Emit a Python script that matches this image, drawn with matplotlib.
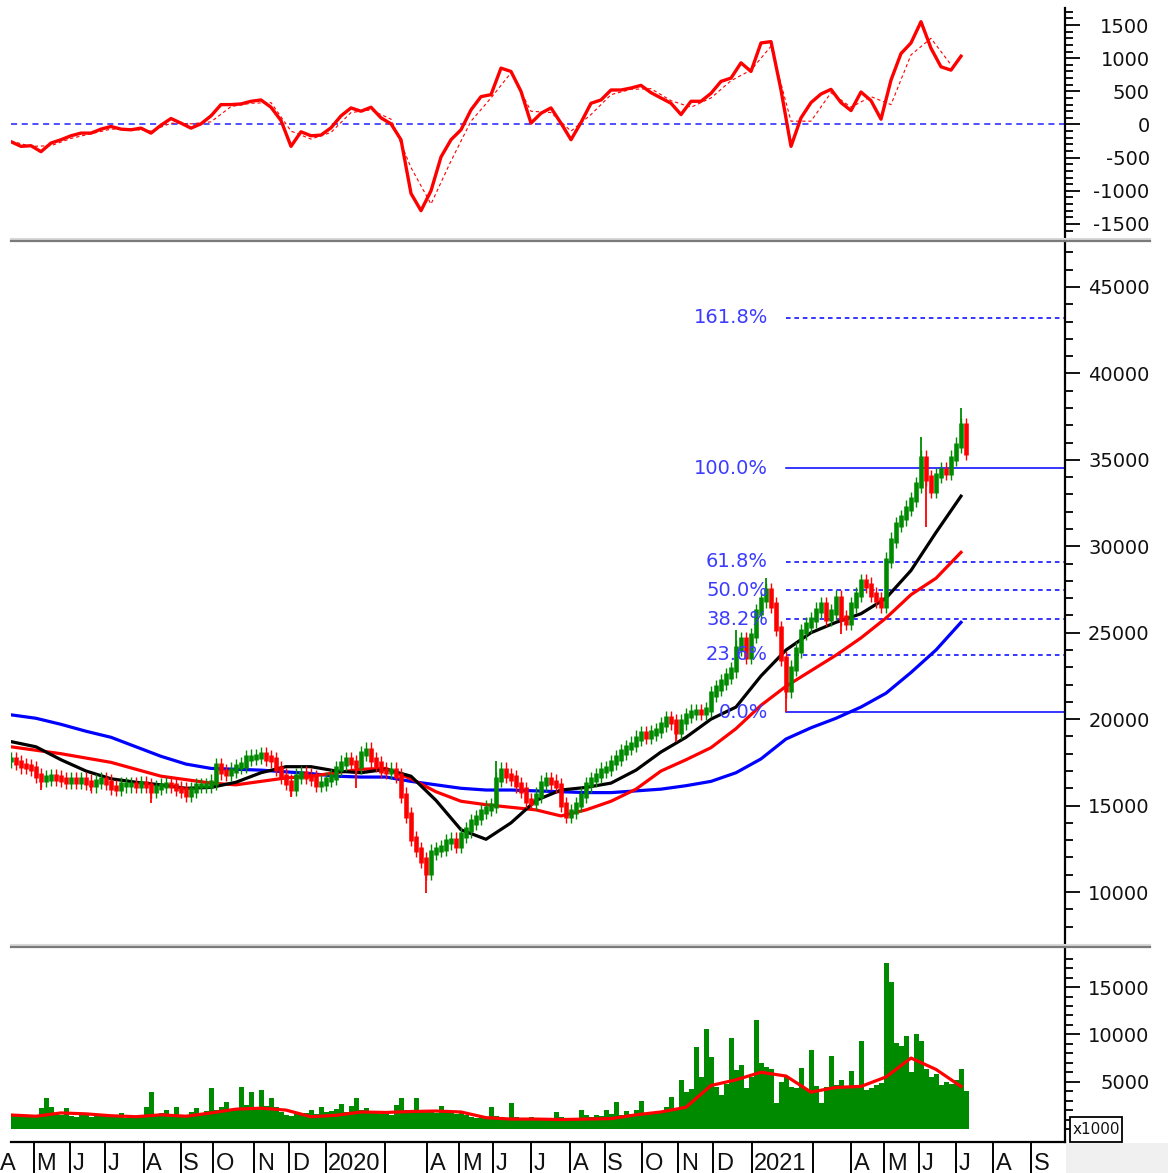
import numpy as np
import matplotlib.pyplot as plt
from matplotlib.lines import Line2D
from matplotlib.patches import Rectangle
from matplotlib.ticker import FuncFormatter

plt.rcParams['axes.unicode_minus'] = False
plt.rcParams['font.family'] = 'DejaVu Sans'

W, H, DPI = 1168, 1173, 100

# --- price closes, one bar ~ every 3 sessions (Apr 2019 -> Jul 2021) ---
close = [
    17650, 17500, 17300, 17250, 17150, 16750, 16500, 16600, 16650, 16600,
    16500, 16400, 16500, 16400, 16500, 16350, 16200, 16400, 16500, 16350,
    16050, 16000, 16200, 16200, 16200, 16150, 16250, 16150, 15900, 16050,
    16150, 16200, 16150, 16000, 15900, 15650, 15900, 16150, 16150, 16150,
    16350, 17300, 16950, 16850, 17050, 17250, 17350, 17750, 17800, 17850,
    17950, 17750, 17650, 17150, 16700, 16350, 16000, 16700, 16850, 16700,
    16600, 16250, 16300, 16500, 16650, 17150, 17450, 17650, 17500, 17300,
    18000, 18200, 17650, 17400, 17050, 17000, 17050, 16750, 15600, 14450,
    13100, 12450, 11850, 11150, 12300, 12450, 12550, 12900, 13000, 12700,
    13300, 13600, 14050, 14300, 14650, 14850, 15000, 16500, 17050, 16750,
    16600, 16200, 15900, 15300, 15200, 15600, 16300, 16500, 16350, 16150,
    15050, 14450, 14650, 15050, 15600, 16200, 16500, 16750, 17050, 17150,
    17500, 17750, 18100, 18350, 18550, 18900, 19150, 19000, 19200, 19350,
    19700, 20050, 19850, 19300, 19850, 20200, 20400, 20450, 20400, 20550,
    21450, 21800, 22150, 22500, 22850, 24100, 24600, 23650, 24850, 26200,
    26900, 27450, 26600, 25250, 23500, 21700, 22950, 24000, 25050, 25450,
    25750, 26300, 26600, 25850, 26200, 27000, 25850, 25600, 26600, 27200,
    27950, 27750, 27200, 26900, 26600, 29200, 30350, 31250, 31650, 32200,
    32700, 33550, 35100, 33950, 33250, 34100, 34400, 34300, 35100, 35850,
    37000, 35450,
]
# long shadows (bar index, extreme price)
spike_bar = [6, 16, 28, 56, 69, 83, 97, 133, 145, 151, 155, 166, 182, 183, 190]
spike_val = [15900, 15850, 15150, 15500, 16000, 9950, 17550, 18700, 25150,
             28150, 20400, 24950, 36300, 31100, 38000]

# moving averages, one value every MA_STEP bars
MA_STEP = 5
ma_short = [18700, 18400, 17650, 17000, 16550, 16350, 16200, 16000, 16050, 16350,
            16900, 17250, 17250, 17000, 16900, 17100, 16700, 15300, 13600, 13050,
            14000, 15300, 15900, 16050, 16300, 17050, 18100, 18950, 20000, 20700,
            22500, 24000, 25000, 25600, 26100, 27000, 28600, 30800, 32900]
ma_mid = [18400, 18200, 18000, 17750, 17500, 17100, 16700, 16500, 16300, 16200,
          16400, 16600, 16700, 16900, 17100, 17150, 16550, 15800, 15250, 15050,
          14900, 14750, 14400, 14750, 15250, 15950, 17000, 17650, 18350, 19450,
          20800, 21900, 22800, 23700, 24700, 25850, 27200, 28150, 29650]
ma_long = [20250, 20050, 19700, 19300, 18950, 18400, 17850, 17400, 17150, 17100,
           17050, 16950, 16850, 16700, 16650, 16650, 16400, 16200, 16000, 15900,
           15900, 15850, 15800, 15750, 15750, 15850, 15950, 16150, 16400, 16900,
           17700, 18850, 19500, 20050, 20700, 21500, 22700, 24000, 25600]

# volume (x1000), same bars as close
volume = [
    1500, 1400, 1600, 1300, 1400, 1500, 2200, 3300, 2300, 1700,
    1500, 2200, 1400, 1300, 1700, 1500, 1300, 1600, 1400, 1500,
    1300, 1400, 1700, 1200, 1300, 1400, 1500, 2300, 3900, 1500,
    1700, 2000, 1600, 2300, 1500, 1400, 1800, 2200, 1700, 1900,
    4300, 2000, 2300, 2900, 1900, 2100, 4400, 2500, 3900, 2200,
    4100, 2400, 3300, 2300, 1800, 1500, 1400, 1600, 1500, 1700,
    2000, 1600, 2300, 1800, 1900, 2100, 2600, 1800, 2400, 3300,
    2000, 2200, 1700, 1900, 1600, 1800, 1500, 2500, 3300, 2000,
    1800, 3300, 2000, 1900, 1800, 1700, 2400, 2000, 1800, 1600,
    1700, 1500, 1300, 1200, 1300, 1200, 2300, 1400, 1300, 1200,
    2800, 1300, 1200, 1100, 1300, 1100, 1200, 1200, 1100, 1800,
    1300, 1100, 1000, 1200, 2000, 1500, 1300, 1500, 1400, 2000,
    1600, 2900, 1500, 1900, 1600, 2000, 3000, 1700, 1600, 1700,
    1800, 2300, 3400, 2100, 5200, 3900, 4200, 8700, 5500, 10600,
    7600, 4400, 3600, 4800, 9600, 6200, 6800, 4300, 5500, 11500,
    7000, 6600, 6300, 2800, 5000, 5500, 4400, 4300, 6400, 4200,
    8300, 4500, 2800, 4400, 7700, 4600, 5200, 4400, 6100, 4700,
    9300, 4100, 4300, 4700, 4900, 17500, 15500, 9100, 8800, 9800,
    6000, 10000, 9300, 6300, 5500, 5800, 4700, 5000, 4800, 5200,
    6300, 4000,
]
vol_ma = [1480, 1350, 1700, 1600, 1400, 1300, 1500, 1350, 1700, 2100,
          2200, 2000, 1300, 1450, 1800, 1750, 1850, 1900, 1800, 1200,
          1050, 1050, 1000, 1050, 1100, 1500, 1800, 2300, 4600, 5200,
          6000, 5600, 3900, 4400, 4500, 5500, 7500, 6300, 4500]

# oscillator (every 2 bars) and its signal line (every 4 bars)
OSC_STEP, SIG_STEP = 2, 4
osc = [-260, -330, -320, -410, -280, -230, -170, -130, -130, -70,
       -30, -70, -80, -55, -130, -10, 90, 20, -55, 10,
       130, 300, 300, 310, 350, 370, 260, 60, -330, -110,
       -170, -160, -50, 130, 250, 200, 260, 100, 10, -230,
       -1040, -1300, -1000, -490, -230, -80, 220, 420, 450, 850,
       800, 500, 20, 170, 250, 20, -230, 30, 320, 370,
       520, 520, 550, 590, 480, 400, 320, 150, 350, 350,
       470, 650, 700, 930, 800, 1230, 1250, 520, -330, 100,
       330, 460, 530, 330, 210, 490, 360, 80, 670, 1070,
       1230, 1550, 1150, 870, 820, 1030]
osc_sig = [-250, -330, -320, -210, -140, -70, -70, -100, 20, 10,
           40, 270, 320, 330, -100, -220, -120, 180, 220, 80,
           -650, -1200, -550, 50, 400, 780, 200, 180, -100, 150,
           450, 530, 540, 360, 260, 400, 660, 820, 1180, 50,
           50, 480, 260, 420, 300, 1050, 1300, 900]

# Fibonacci retracement
fib_low, fib_high = 20400, 34500
fib_bar = 155
fib_levels = [0.0, 23.6, 38.2, 50.0, 61.8, 100.0, 161.8]

# month boundaries (bar index) and labels
month_start = [-2.8, 4.5, 11.8, 18.7, 26.5, 33.9, 40.4, 48.6, 55.6, 62.9, 74.8,
               83.2, 89.6, 96.4, 104.0, 111.8, 118.7, 126.2, 133.4, 140.4, 148.1,
               160.3, 168.0, 174.6, 181.6, 189.0, 196.4, 204.0]
month_lbl = ['A', 'M', 'J', 'J', 'A', 'S', 'O', 'N', 'D', '2020', '', 'A', 'M', 'J',
             'J', 'A', 'S', 'O', 'N', 'D', '2021', '', 'A', 'M', 'J', 'J', 'A', 'S']

GREEN, RED, BLUE = '#008a00', '#ff0000', '#0000ff'
XMAX = 210.8

fig = plt.figure(figsize=(W / DPI, H / DPI), dpi=DPI)


def box(x0, y0, x1, y1):
    return [x0 / W, 1 - y1 / H, (x1 - x0) / W, (y1 - y0) / H]


ax_osc = fig.add_axes(box(11, 8, 1065, 237))
ax_pr = fig.add_axes(box(11, 243, 1065, 943))
ax_vol = fig.add_axes(box(11, 949, 1065, 1142))
ax_lbl = fig.add_axes(box(0, 1142, 1065, 1173))

fmt = FuncFormatter(lambda v, p: f'{int(round(v))}')


def style(ax, ylim, major, minor):
    for s in ('left', 'top', 'bottom'):
        ax.spines[s].set_visible(False)
    ax.spines['right'].set_linewidth(1.6)
    ax.set_xlim(0, XMAX)
    ax.set_ylim(*ylim)
    ax.set_xticks([])
    ax.yaxis.tick_right()
    ax.set_yticks(major)
    ax.set_yticks(minor, minor=True)
    ax.yaxis.set_major_formatter(fmt)
    ax.tick_params(axis='y', which='major', length=11, width=1.3, pad=50,
                   labelsize=14, labelcolor='#111111')
    ax.tick_params(axis='y', which='minor', length=5.5, width=1.3)
    plt.setp(ax.get_yticklabels(), ha='right')


# --- oscillator panel ---
style(ax_osc, (-1697, 1757), np.arange(-1500, 1501, 500), np.arange(-1600, 1701, 100))
ax_osc.axhline(0, color='#2020ff', lw=1.1, ls=(0, (4, 3)), zorder=1)
ax_osc.plot(np.arange(len(osc_sig)) * SIG_STEP, osc_sig, color=RED, lw=0.8,
            ls=(0, (3, 2.5)), zorder=2)
ax_osc.plot(np.arange(len(osc)) * OSC_STEP, osc, color=RED, lw=2.4, zorder=3)

# --- price panel ---
style(ax_pr, (7050, 47545), np.arange(10000, 45001, 5000), np.arange(8000, 47001, 1000))
c = np.array(close, float)
t = np.arange(len(c))
prev = np.r_[c[0], c[:-1]]
col = np.where(c >= prev, GREEN, RED)
lo = np.minimum(prev, c) - 150
hi = np.maximum(prev, c) + 150
ax_pr.vlines(t, lo - 300, hi + 300, colors=col, lw=1.0, zorder=3)
ax_pr.vlines(t, lo, hi, colors=col, lw=3.3, zorder=3)
sb = np.array(spike_bar)
ax_pr.vlines(sb, c[sb], spike_val, colors=col[sb], lw=1.3, zorder=3)

tm = np.arange(len(ma_long)) * MA_STEP
ax_pr.plot(tm, ma_long, color=BLUE, lw=2.3, zorder=2)
ax_pr.plot(tm, ma_mid, color=RED, lw=2.3, zorder=2)
ax_pr.plot(tm, ma_short, color='black', lw=2.3, zorder=2)

rng = fib_high - fib_low
for lv in fib_levels:
    y = fib_low + rng * lv / 100
    ls = '-' if lv in (0.0, 100.0) else (0, (3, 2.5))
    ax_pr.plot([fib_bar, XMAX], [y, y], color=BLUE, lw=1.1, ls=ls, zorder=1)
    ax_pr.text(151.4, y, f'{lv:.1f}%', ha='right', va='center', color='#3c3cff',
               fontsize=14, zorder=5)

# --- volume panel ---
style(ax_vol, (-1374, 19030), np.arange(5000, 15001, 5000), np.arange(0, 18001, 1000))
ax_vol.spines['bottom'].set_visible(True)
ax_vol.spines['bottom'].set_linewidth(1.6)
ax_vol.bar(np.arange(len(volume)), volume, width=1.0, color=GREEN, linewidth=0, zorder=2)
ax_vol.plot(np.arange(len(vol_ma)) * MA_STEP, vol_ma, color=RED, lw=2.3, zorder=3)

# --- month row ---
ax_lbl.set_xlim(-2.2, XMAX)
ax_lbl.set_ylim(0, 1)
ax_lbl.axis('off')
for m, lbl in zip(month_start, month_lbl):
    ax_lbl.axvline(m, color='black', lw=1.4)
    ax_lbl.text(m + 0.55, 0.1, lbl, ha='left', va='baseline',
                family='Liberation Sans', fontsize=17, color='#111111', clip_on=True)

# panel separators and corner box
for yy, cc, lw in ((238.5, '#d8d8d8', 1.5), (240.5, '#7a7a7a', 1.6),
                   (944.5, '#d8d8d8', 1.5), (946.5, '#7a7a7a', 1.6)):
    fig.add_artist(Line2D([11 / W, 1150 / W], [1 - yy / H, 1 - yy / H],
                          color=cc, lw=lw))
fig.add_artist(Rectangle((1066 / W, 0), (W - 1066) / W, 30 / H,
                         facecolor='#f0f0f0', edgecolor='none'))
fig.add_artist(Rectangle((1070 / W, 1 - 1142 / H), 52 / W, 25 / H,
                         facecolor='white', edgecolor='black', lw=1.3))
fig.text(1073 / W, 1 - 1130 / H, 'x1000', ha='left', va='center',
         fontsize=11, color='#111111')

fig.savefig('out.png', dpi=DPI)
